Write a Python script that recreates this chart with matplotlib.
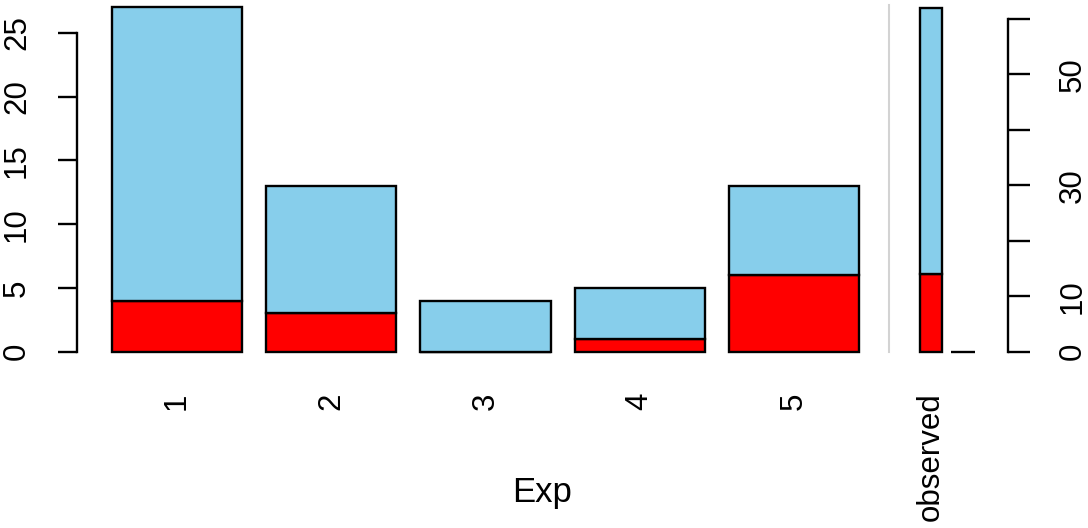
import numpy as np
import matplotlib
matplotlib.use('Agg')
import matplotlib.pyplot as plt

# 数据
categories = ['1', '2', '3', '4', '5']
red_counts = [4, 3, 0, 1, 6]
blue_counts = [23, 10, 4, 4, 7]
left_ticks = [0, 5, 10, 15, 20, 25]

obs_label = ['observed']
obs_red = [14]
obs_blue = [48]
empty_bar = [0]
right_ticks = [0, 10, 20, 30, 40, 50, 60]
right_ticklabels = ['0', '10', '', '30', '', '50', '']

plt.rcParams['font.family'] = ['Liberation Sans', 'DejaVu Sans']

W, H = 1088, 528
fig = plt.figure(figsize=(W / 100, H / 100), dpi=100)
LW = 1.7


def px_axes(x0, x1, y0, y1):
    return fig.add_axes([x0 / W, 1 - y1 / H, (x1 - x0) / W, (y1 - y0) / H])


# 左边：五个实验的堆叠柱
ax = px_axes(77, 889, 0, 351.7)
ax.set_facecolor('none')
x = np.arange(len(categories))
ax.bar(x, red_counts, width=0.843, color='red', edgecolor='black', linewidth=LW, clip_on=False)
ax.bar(x, blue_counts, bottom=red_counts, width=0.843, color='skyblue', edgecolor='black',
       linewidth=LW, clip_on=False)
ax.set_xlim((77 - 177) / 154.25, (889 - 177) / 154.25)
ax.set_ylim(0, 351.7 / 12.75)

for s in ['top', 'right', 'bottom']:
    ax.spines[s].set_visible(False)
ax.spines['left'].set_linewidth(LW)
ax.spines['left'].set_bounds(0, 25)

ax.set_yticks(left_ticks)
ax.set_yticklabels([str(t) for t in left_ticks])
ax.tick_params(axis='y', length=13.7, width=LW, pad=18.7, labelsize=22.5, labelrotation=90)
for lab in ax.get_yticklabels():
    lab.set_va('center')

ax.set_xticks(x, categories)
ax.tick_params(axis='x', length=0, pad=29.5, labelsize=22.5, labelrotation=90)

# 右边：observed 柱和右侧坐标轴
ax2 = px_axes(889, 1008, 0, 351.7)
ax2.set_facecolor('none')
ax2.bar([0], obs_red, width=0.69, color='red', edgecolor='black', linewidth=LW, clip_on=False)
ax2.bar([0], obs_blue, bottom=obs_red, width=0.69, color='skyblue', edgecolor='black',
        linewidth=LW, clip_on=False)
ax2.bar([1], empty_bar, width=0.75, color='white', edgecolor='black', linewidth=LW, clip_on=False)
ax2.set_xlim((889 - 931) / 32, (1008 - 931) / 32)
ax2.set_ylim(0, 351.7 / 5.545)

ax2.spines['top'].set_visible(False)
ax2.spines['bottom'].set_visible(False)
ax2.spines['left'].set_color('#d3d3d3')
ax2.spines['left'].set_linewidth(1.5)
ax2.spines['left'].set_bounds(0, 62.6)
ax2.spines['right'].set_linewidth(LW)
ax2.spines['right'].set_bounds(0, 60)

ax2.yaxis.set_ticks_position('right')
ax2.set_yticks(right_ticks)
ax2.set_yticklabels(right_ticklabels)
ax2.tick_params(axis='y', length=15.8, width=LW, pad=20, labelsize=22.5, labelrotation=90)
for lab in ax2.get_yticklabels():
    lab.set_va('center')

ax2.set_xticks([0], obs_label)
ax2.tick_params(axis='x', length=0, pad=29, labelsize=22.5, labelrotation=90)

fig.text(542 / W, 1 - 502 / H, 'Exp', ha='center', va='baseline', fontsize=25,
         family=['Liberation Sans Narrow', 'Liberation Sans', 'DejaVu Sans'])

fig.savefig('out.png', dpi=100)
